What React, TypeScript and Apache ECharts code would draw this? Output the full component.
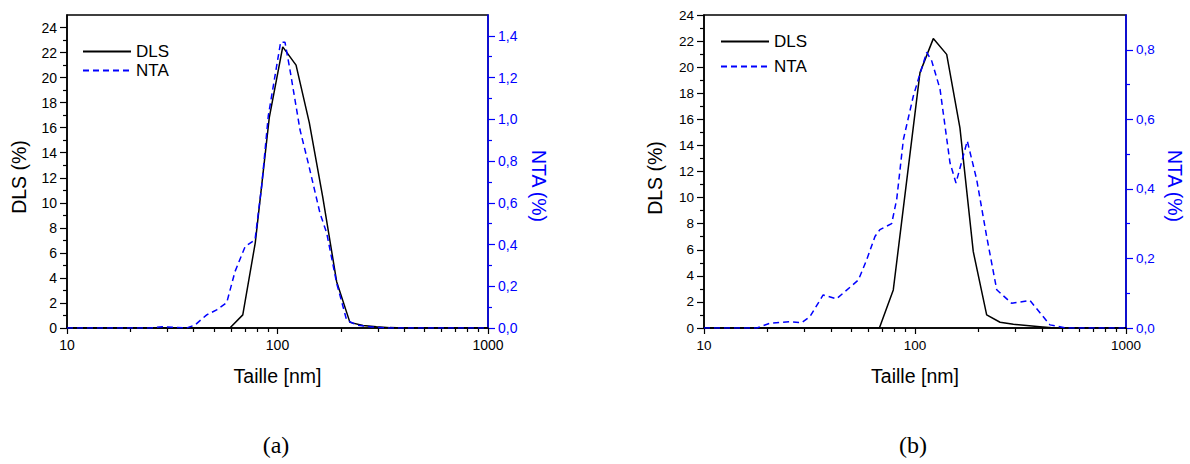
import React, { useEffect, useRef } from "react";
import * as echarts from "echarts";

// ---------- data (a) ----------
const dlsAX = [10, 59.4, 68.4, 78.4, 91.4, 105.9, 122.5, 141.6, 163.9, 191, 220.8, 255, 295, 342, 396, 1000];
const dlsAY = [0, 0, 1.05, 6.8, 16.8, 22.45, 21.0, 16.4, 10.5, 3.7, 0.45, 0.2, 0.1, 0.03, 0, 0];
const ntaAX = [10, 25, 28.5, 32, 37, 40.5, 46.1, 51.4, 57.4, 62.8, 70.2, 78.2, 84.1, 90.4, 103.5, 108.5, 114.5, 127.9, 140, 159.2, 171.3, 191, 213, 238, 280, 330, 1000];
const ntaAY = [0, 0, 0.006, 0.003, 0, 0.014, 0.063, 0.087, 0.122, 0.27, 0.39, 0.423, 0.68, 1.016, 1.37, 1.37, 1.24, 0.95, 0.79, 0.55, 0.455, 0.215, 0.038, 0.014, 0.005, 0, 0];

// ---------- data (b) ----------
const dlsBX = [10, 67.8, 78.9, 105.6, 122.1, 141.3, 163.3, 188.8, 218.6, 253, 292.6, 391, 460, 1000];
const dlsBY = [0, 0, 2.92, 19.58, 22.19, 20.98, 15.35, 5.87, 1.0, 0.44, 0.28, 0.1, 0, 0];
const ntaBX = [10, 17.8, 20.6, 25.6, 29.0, 31.8, 36.7, 42.5, 53.9, 59, 64.6, 68.2, 77.5, 81.9, 88.1, 98.2, 103.7, 113.6, 120, 131.4, 146.5, 156.4, 176.9, 196, 218.6, 244, 287, 350.6, 436, 520, 1000];
const ntaBY = [0, 0, 0.014, 0.018, 0.015, 0.033, 0.095, 0.084, 0.138, 0.196, 0.263, 0.283, 0.3, 0.37, 0.542, 0.667, 0.715, 0.793, 0.768, 0.687, 0.475, 0.417, 0.538, 0.427, 0.263, 0.11, 0.071, 0.079, 0.009, 0, 0];

// ---------- ticks ----------
const xMajor = [10, 100, 1000];
const xMinor = [20, 30, 40, 50, 60, 70, 80, 90, 200, 300, 400, 500, 600, 700, 800, 900];
const dlsTicks = [0, 2, 4, 6, 8, 10, 12, 14, 16, 18, 20, 22, 24];
const dlsMinor = [1, 3, 5, 7, 9, 11, 13, 15, 17, 19, 21, 23];
const ntaTicksA = [0, 0.2, 0.4, 0.6, 0.8, 1.0, 1.2, 1.4];
const ntaMinorA = [0.1, 0.3, 0.5, 0.7, 0.9, 1.1, 1.3];
const ntaTicksB = [0, 0.2, 0.4, 0.6, 0.8];
const ntaMinorB = [0.1, 0.3, 0.5, 0.7];

const seriesNames = ["DLS", "NTA"];
const xName = "Taille [nm]";
const yNameLeft = "DLS (%)";
const yNameRight = "NTA (%)";
const captions = ["(a)", "(b)"];

const FONT = "'Liberation Sans', Arial, sans-serif";
const BLUE = "#0000ff";
const BLACK = "#000000";

const pairs = (xs: number[], ys: number[]) => xs.map((x, i) => [x, ys[i]]);
const comma = (v: number) => Number(v).toFixed(1).replace(".", ",");

function panel(g: number, left: number, width: number, dlsMax: number, ntaMax: number, ntaTicks: number[], ntaMinor: number[], fs: number) {
  const grid = {
    left, top: 15, width, height: 313,
    show: true, borderColor: BLACK, borderWidth: 1.5, backgroundColor: "transparent",
    containLabel: false, outerBoundsMode: "none",
  };
  const xMain = {
    type: "log", logBase: 10, gridIndex: g, min: 10, max: 1000, position: "bottom",
    axisLine: { show: true, onZero: false, lineStyle: { color: BLACK, width: 1.5 } },
    axisTick: { show: true, inside: false, length: 6, customValues: xMajor, lineStyle: { color: BLACK, width: 1.2 } },
    axisLabel: { show: true, customValues: xMajor, margin: 10, color: BLACK, fontFamily: FONT, fontSize: fs, formatter: (v: number) => String(Math.round(v)) },
    splitLine: { show: false },
    name: xName, nameLocation: "middle", nameGap: 38,
    nameTextStyle: { fontFamily: FONT, fontSize: 19.5, color: BLACK },
  };
  const xMin = {
    type: "log", logBase: 10, gridIndex: g, min: 10, max: 1000, position: "bottom",
    axisLine: { show: false },
    axisTick: { show: true, inside: false, length: 4, customValues: xMinor, lineStyle: { color: BLACK, width: 1.2 } },
    axisLabel: { show: false },
    splitLine: { show: false },
  };
  const yDls = {
    type: "value", gridIndex: g, position: "left", min: 0, max: dlsMax,
    axisLine: { show: true, onZero: false, lineStyle: { color: BLACK, width: 1.5 } },
    axisTick: { show: true, inside: false, length: 7, customValues: dlsTicks, lineStyle: { color: BLACK, width: 1.2 } },
    axisLabel: { show: true, customValues: dlsTicks, margin: 10, color: BLACK, fontFamily: FONT, fontSize: fs },
    splitLine: { show: false },
  };
  const yNta = {
    type: "value", gridIndex: g, position: "right", min: 0, max: ntaMax,
    axisLine: { show: true, onZero: false, lineStyle: { color: BLUE, width: 1.5 } },
    axisTick: { show: true, inside: false, length: 7, customValues: ntaTicks, lineStyle: { color: BLUE, width: 1.2 } },
    axisLabel: { show: true, customValues: ntaTicks, margin: 10, color: BLUE, fontFamily: FONT, fontSize: fs, formatter: comma },
    splitLine: { show: false },
  };
  const yDlsMin = {
    type: "value", gridIndex: g, position: "left", min: 0, max: dlsMax,
    axisLine: { show: false },
    axisTick: { show: true, inside: false, length: 4, customValues: dlsMinor, lineStyle: { color: BLACK, width: 1.2 } },
    axisLabel: { show: false }, splitLine: { show: false },
  };
  const yNtaMin = {
    type: "value", gridIndex: g, position: "right", min: 0, max: ntaMax,
    axisLine: { show: false },
    axisTick: { show: true, inside: false, length: 4, customValues: ntaMinor, lineStyle: { color: BLUE, width: 1.2 } },
    axisLabel: { show: false }, splitLine: { show: false },
  };
  return { grid, xAxes: [xMain, xMin], yAxes: [yDls, yNta, yDlsMin, yNtaMin] };
}

export default function App() {
  const ref = useRef<HTMLDivElement>(null);
  useEffect(() => {
    if (!ref.current) return;
    const chart = echarts.init(ref.current, undefined, { renderer: "svg" });
    const pA = panel(0, 67, 421, 25, 1.5, ntaTicksA, ntaMinorA, 14);
    const pB = panel(1, 704, 422, 24, 0.9, ntaTicksB, ntaMinorB, 13.5);
    const lineSeries = (name: string, data: number[][], xi: number, yi: number, color: string, dashed: boolean) => ({
      name, type: "line", data, xAxisIndex: xi, yAxisIndex: yi,
      showSymbol: false, symbol: "none", smooth: false,
      lineStyle: { color, width: 1.5, type: dashed ? [6, 4] : "solid" },
      itemStyle: { color },
    });
    const legendBase = {
      orient: "vertical", itemWidth: 48, itemHeight: 14, selectedMode: false,
      data: seriesNames,
      itemStyle: { opacity: 0 },
      textStyle: { fontFamily: FONT, fontSize: 17, color: BLACK },
    };
    const txt = (text: string, x: number, y: number, rot: number, color: string, font: string) => ({
      type: "text", x, y, rotation: rot,
      style: { text, fill: color, font, align: "center", verticalAlign: "middle", textAlign: "center", textVerticalAlign: "middle" },
    });
    const axisFont = `19.5px ${FONT}`;
    const serif = "24px 'Liberation Serif', 'DejaVu Serif', serif";
    chart.setOption({
      animation: false,
      backgroundColor: "#ffffff",
      grid: [pA.grid, pB.grid],
      xAxis: [...pA.xAxes, ...pB.xAxes],
      yAxis: [...pA.yAxes, ...pB.yAxes],
      legend: [
        { ...legendBase, left: 77, top: 38, itemGap: 2 },
        { ...legendBase, left: 715, top: 28, itemGap: 8 },
      ],
      series: [
        lineSeries(seriesNames[0], pairs(dlsAX, dlsAY), 0, 0, BLACK, false),
        lineSeries(seriesNames[1], pairs(ntaAX, ntaAY), 0, 1, BLUE, true),
        lineSeries(seriesNames[0], pairs(dlsBX, dlsBY), 2, 4, BLACK, false),
        lineSeries(seriesNames[1], pairs(ntaBX, ntaBY), 2, 5, BLUE, true),
      ],
      graphic: [
        txt(yNameLeft, 19, 177, Math.PI / 2, BLACK, axisFont),
        txt(yNameRight, 539, 186, -Math.PI / 2, BLUE, axisFont),
        txt(yNameLeft, 655, 178, Math.PI / 2, BLACK, axisFont),
        txt(yNameRight, 1175, 186, -Math.PI / 2, BLUE, axisFont),
        txt(captions[0], 276, 445, 0, BLACK, serif),
        txt(captions[1], 913, 445, 0, BLACK, serif),
      ],
    });
    return () => chart.dispose();
  }, []);
  return <div ref={ref} style={{ position: "fixed", left: 0, top: 0, width: 1190, height: 464, background: "#fff" }} />;
}
